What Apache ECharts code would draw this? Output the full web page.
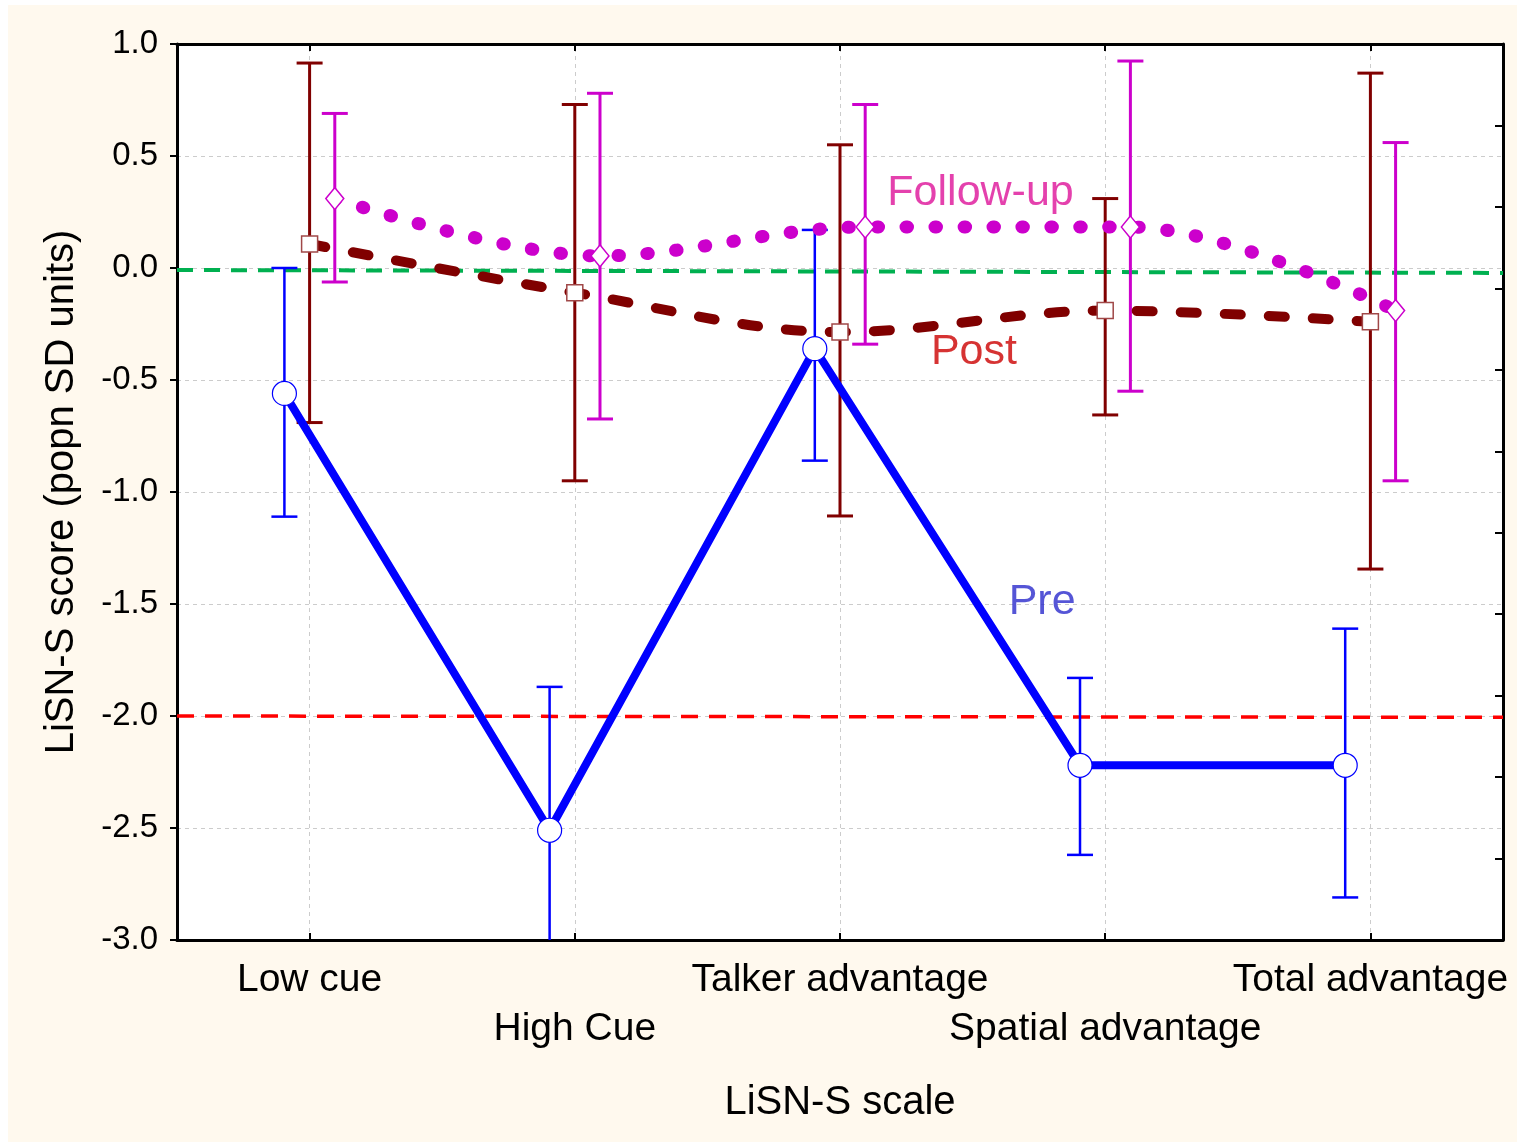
<!DOCTYPE html>
<html>
<head>
<meta charset="utf-8">
<script src="https://cdn.jsdelivr.net/npm/echarts@6/dist/echarts.min.js"></script>
<style>
html,body{margin:0;padding:0;background:#ffffff;}
#chart{width:1517px;height:1142px;}
</style>
</head>
<body>
<div id="chart"></div>
<script>
// ---- data ----
var categories = ['Low cue', 'High Cue', 'Talker advantage', 'Spatial advantage', 'Total advantage'];
var yTicks = [-3.0, -2.5, -2.0, -1.5, -1.0, -0.5, 0.0, 0.5, 1.0];

var preMean  = [-0.56, -2.51, -0.36, -2.22, -2.22];
var preUpper = [0.0, -1.87, 0.17, -1.83, -1.61];
var preLower = [-1.11, -3.05, -0.86, -2.62, -2.81];

var postMean  = [0.107, -0.11, -0.286, -0.19, -0.24];
var postUpper = [0.915, 0.73, 0.55, 0.31, 0.87];
var postLower = [-0.69, -0.95, -1.107, -0.656, -1.344];

var fuMean  = [0.31, 0.054, 0.183, 0.183, -0.19];
var fuUpper = [0.69, 0.78, 0.73, 0.924, 0.56];
var fuLower = [-0.0625, -0.674, -0.34, -0.55, -0.95];

var groupOffset = [-0.095, 0, 0.095];   // Pre, Post, Follow-up position within category

var normLine = [-0.009, -0.022];        // green reference (left, right)
var cutoffLine = [-2.0, -2.006];        // red reference (left, right)

var annotText = ['Follow-up', 'Post', 'Pre'];
var annotX = [2.53, 2.505, 2.762];
var annotY = [0.335, -0.375, -1.491];

// ---- helpers ----
function pts(means, off) {
  return means.map(function (v, i) { return [i + off, v]; });
}
function bars(up, lo, off) {
  return up.map(function (v, i) { return [i + off, v, lo[i]]; });
}
function errorBarSeries(data, color, width) {
  return {
    type: 'custom', xAxisIndex: 1, yAxisIndex: 0, z: 3, clip: true, silent: true,
    data: data,
    renderItem: function (params, api) {
      var x = api.value(0);
      var p1 = api.coord([x, api.value(1)]);
      var p2 = api.coord([x, api.value(2)]);
      var hw = 13;
      var st = { stroke: color, lineWidth: width };
      return {
        type: 'group',
        children: [
          { type: 'line', shape: { x1: p1[0], y1: p1[1], x2: p2[0], y2: p2[1] }, style: st },
          { type: 'line', shape: { x1: p1[0] - hw, y1: p1[1], x2: p1[0] + hw, y2: p1[1] }, style: st },
          { type: 'line', shape: { x1: p2[0] - hw, y1: p2[1], x2: p2[0] + hw, y2: p2[1] }, style: st }
        ]
      };
    }
  };
}

var chart = echarts.init(document.getElementById('chart'), null, { renderer: 'canvas' });
var FONT = '"Liberation Sans", Arial, sans-serif';

var option = {
  animation: false,
  backgroundColor: 'transparent',
  textStyle: { fontFamily: FONT },
  graphic: [{
    type: 'rect', z: -10, silent: true,
    shape: { x: 8, y: 5, width: 1509, height: 1137 },
    style: { fill: '#fff9ee' }
  }],
  grid: {
    left: 177, right: 14, top: 44, bottom: 202,
    show: true, backgroundColor: '#ffffff', borderWidth: 0
  },
  xAxis: [
    {
      type: 'category', data: categories, position: 'bottom', boundaryGap: true,
      axisLine: { show: true, onZero: false, lineStyle: { color: '#000', width: 3 } },
      axisTick: { show: true, inside: true, alignWithLabel: true, length: 7, lineStyle: { color: '#000', width: 2 } },
      axisLabel: {
        interval: 0, color: '#000', fontSize: 39, fontFamily: FONT, margin: 16, lineHeight: 49,
        formatter: function (v, i) { return i % 2 === 1 ? '\n' + v : v; }
      },
      splitLine: { show: false },
      name: 'LiSN-S scale', nameLocation: 'middle', nameGap: 143,
      nameTextStyle: { color: '#000', fontSize: 40, fontFamily: FONT }
    },
    {
      type: 'value', min: -0.5, max: 4.5, show: false,
      axisLine: { onZero: false }
    },
    {
      type: 'category', data: categories, position: 'top', boundaryGap: true,
      axisLine: { show: true, onZero: false, lineStyle: { color: '#000', width: 3 } },
      axisTick: { show: true, inside: true, alignWithLabel: true, length: 7, lineStyle: { color: '#000', width: 2 } },
      axisLabel: { show: false }, splitLine: { show: false }
    }
  ],
  yAxis: [
    {
      type: 'value', min: -3, max: 1, interval: 0.5, position: 'left',
      axisLine: { show: true, onZero: false, lineStyle: { color: '#000', width: 3 } },
      axisTick: { show: true, inside: false, length: 7, lineStyle: { color: '#000', width: 2 } },
      axisLabel: {
        color: '#000', fontSize: 33, fontFamily: FONT, margin: 19,
        formatter: function (v) {
          var t = yTicks.filter(function (k) { return Math.abs(k - v) < 1e-9; });
          return t.length ? t[0].toFixed(1) : '';
        }
      },
      splitLine: { show: true, lineStyle: { color: '#cccccc', width: 1, type: [4, 4] } },
      name: 'LiSN-S score (popn SD units)', nameLocation: 'middle', nameGap: 95,
      nameTextStyle: { color: '#000', fontSize: 40, fontFamily: FONT }
    },
    {
      type: 'value', min: 0, max: 11, interval: 1, position: 'right',
      axisLine: { show: true, onZero: false, lineStyle: { color: '#000', width: 3 } },
      axisTick: { show: true, inside: true, length: 8, lineStyle: { color: '#000', width: 2 } },
      axisLabel: { show: false }, splitLine: { show: false }
    }
  ],
  series: [
    // reference lines + vertical grid lines
    {
      type: 'line', xAxisIndex: 1, yAxisIndex: 0, z: 1, silent: true, symbol: 'none',
      data: [[-0.5, normLine[0]], [4.5, normLine[1]]],
      lineStyle: { color: '#00b050', width: 4, type: [16, 11] },
      markLine: {
        silent: true, symbol: 'none', label: { show: false }, z: 0,
        lineStyle: { color: '#cccccc', width: 1, type: [4, 4] },
        data: categories.map(function (c, i) { return { xAxis: i }; })
      }
    },
    {
      type: 'line', xAxisIndex: 1, yAxisIndex: 0, z: 1, silent: true, symbol: 'none',
      data: [[-0.5, cutoffLine[0]], [4.5, cutoffLine[1]]],
      lineStyle: { color: '#ff0000', width: 3.5, type: [17, 11] }
    },
    // error bars
    errorBarSeries(bars(postUpper, postLower, groupOffset[1]), '#800000', 3),
    errorBarSeries(bars(fuUpper, fuLower, groupOffset[2]), '#cc00cc', 3),
    errorBarSeries(bars(preUpper, preLower, groupOffset[0]), '#0000ff', 2.5),
    // Follow-up line
    {
      type: 'line', xAxisIndex: 1, yAxisIndex: 0, z: 4, silent: true,
      data: pts(fuMean, groupOffset[2]), smooth: 0.35,
      lineStyle: { color: '#cc00cc', width: 13, type: [1.5, 27.5], cap: 'round' },
      symbol: 'diamond', symbolSize: [18, 22], showAllSymbol: true,
      itemStyle: { color: '#ffffff', borderColor: '#cc00cc', borderWidth: 1.5 }
    },
    // Post line
    {
      type: 'line', xAxisIndex: 1, yAxisIndex: 0, z: 5, silent: true,
      data: pts(postMean, groupOffset[1]), smooth: 0.35,
      lineStyle: { color: '#800000', width: 10, type: [16, 28], cap: 'round' },
      symbol: 'rect', symbolSize: 16, showAllSymbol: true,
      itemStyle: { color: '#ffffff', borderColor: '#a04848', borderWidth: 1.5 }
    },
    // Pre line
    {
      type: 'line', xAxisIndex: 1, yAxisIndex: 0, z: 6, silent: true,
      data: pts(preMean, groupOffset[0]),
      lineStyle: { color: '#0000ff', width: 8 },
      symbol: 'circle', symbolSize: 24, showAllSymbol: true,
      itemStyle: { color: '#ffffff', borderColor: '#0000ff', borderWidth: 1.2 }
    },
    // annotations
    {
      type: 'scatter', xAxisIndex: 1, yAxisIndex: 0, z: 7, silent: true,
      symbolSize: 0,
      data: annotText.map(function (t, i) {
        var colors = ['#dd1199', '#cc0000', '#2a2acc'];
        return {
          value: [annotX[i], annotY[i]], name: t,
          label: { color: colors[i] }
        };
      }),
      label: {
        show: true, position: 'inside', fontSize: 43, fontFamily: FONT,
        formatter: function (p) { return p.name; }
      }
    }
  ]
};
chart.setOption(option);
</script>
</body>
</html>
